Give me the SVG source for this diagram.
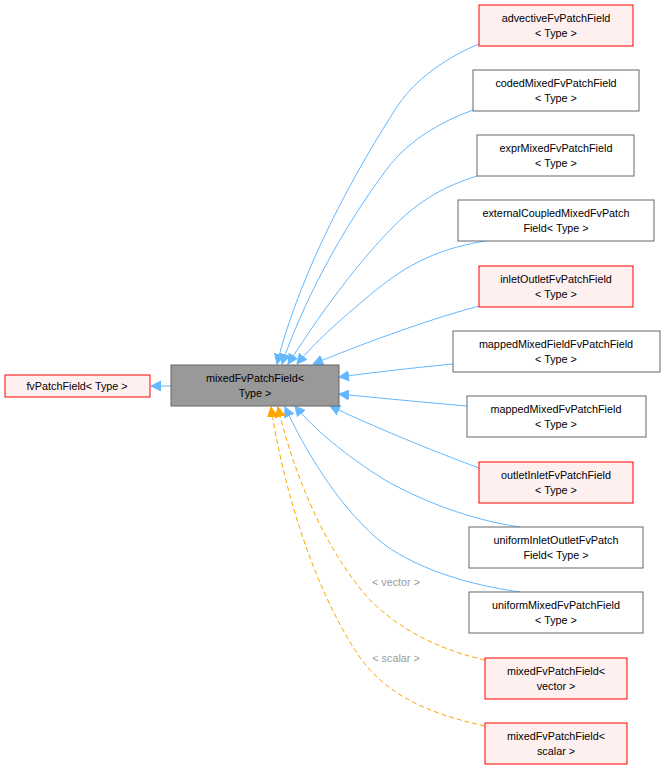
<svg xmlns="http://www.w3.org/2000/svg" width="665" height="770" viewBox="0 0 665 770">
<style>
.n rect{stroke-width:1}
.r{fill:#fff0f0;stroke:#ff0000}
.g{fill:#ffffff;stroke:#666666}
text{font-family:"Liberation Sans",Arial,sans-serif;font-size:10.8px;fill:#000;text-anchor:middle}
.e{fill:none;stroke:#63b8ff;stroke-width:1}
.o{fill:none;stroke:#ffa500;stroke-width:1;stroke-dasharray:5,3}
.l{fill:#9a9a9a}
</style>
<defs>
<marker id="ab" markerWidth="12" markerHeight="12" refX="10" refY="5" orient="auto" markerUnits="userSpaceOnUse"><path d="M0,0 L10,5 L0,10 z" fill="#63b8ff" stroke="#63b8ff"/></marker>
<marker id="ao" markerWidth="12" markerHeight="12" refX="10" refY="5" orient="auto" markerUnits="userSpaceOnUse"><path d="M0,0 L10,5 L0,10 z" fill="#ffa500" stroke="#ffa500"/></marker>
</defs>
<g id="edges">
<path class="e" marker-end="url(#ab)" d="M171,386 L151,386"/>
<path class="e" marker-end="url(#ab)" d="M479,44 C440,60 410,85 395,110 C340,195 295,290 277,364"/>
<path class="e" marker-end="url(#ab)" d="M473,110 C440,122 410,140 390,165 C340,230 300,310 282,364"/>
<path class="e" marker-end="url(#ab)" d="M477,176 C445,186 420,200 395,225 C350,270 310,330 288,364"/>
<path class="e" marker-end="url(#ab)" d="M485,241 C430,250 400,270 370,295 C340,320 315,342 297,364"/>
<path class="e" marker-end="url(#ab)" d="M479,306 C420,322 360,345 313,364"/>
<path class="e" marker-end="url(#ab)" d="M453,364 C410,368 370,373 339,377"/>
<path class="e" marker-end="url(#ab)" d="M467,406 C420,402 380,398 339,394"/>
<path class="e" marker-end="url(#ab)" d="M479,468 C430,450 370,425 330,406"/>
<path class="e" marker-end="url(#ab)" d="M520,527 C470,520 420,500 385,480 C345,455 315,430 295,406"/>
<path class="e" marker-end="url(#ab)" d="M520,592 C470,585 420,570 385,545 C340,510 305,450 285,407"/>
<path class="o" marker-end="url(#ao)" d="M485,660 C440,650 400,630 370,600 C320,545 290,460 278,407"/>
<path class="o" marker-end="url(#ao)" d="M485,726 C420,712 380,690 355,650 C310,580 282,480 271,407"/>
<text class="l" x="396" y="586">&lt; vector &gt;</text>
<text class="l" x="396" y="662">&lt; scalar &gt;</text>
</g>
<g id="fvPatchField" class="n"><rect class="r" x="5" y="375" width="145" height="22"/><text x="77" y="390">fvPatchField&lt; Type &gt;</text></g>
<g id="mixedType" class="n"><rect x="171" y="365" width="168" height="41" fill="#999999" stroke="#666666"/><text x="255" y="382">mixedFvPatchField&lt;</text><text x="255" y="397">Type &gt;</text></g>
<g id="n1" class="n"><rect class="r" x="479" y="5" width="154" height="41"/><text x="556" y="22">advectiveFvPatchField</text><text x="556" y="37">&lt; Type &gt;</text></g>
<g id="n2" class="n"><rect class="g" x="473" y="70" width="166" height="41"/><text x="556" y="87">codedMixedFvPatchField</text><text x="556" y="102">&lt; Type &gt;</text></g>
<g id="n3" class="n"><rect class="g" x="477" y="135" width="157" height="41"/><text x="556" y="152">exprMixedFvPatchField</text><text x="556" y="167">&lt; Type &gt;</text></g>
<g id="n4" class="n"><rect class="g" x="458" y="200" width="196" height="41"/><text x="556" y="217">externalCoupledMixedFvPatch</text><text x="556" y="232">Field&lt; Type &gt;</text></g>
<g id="n5" class="n"><rect class="r" x="479" y="266" width="154" height="41"/><text x="556" y="283">inletOutletFvPatchField</text><text x="556" y="298">&lt; Type &gt;</text></g>
<g id="n6" class="n"><rect class="g" x="453" y="331" width="207" height="41"/><text x="556" y="348">mappedMixedFieldFvPatchField</text><text x="556" y="363">&lt; Type &gt;</text></g>
<g id="n7" class="n"><rect class="g" x="467" y="396" width="179" height="41"/><text x="556" y="413">mappedMixedFvPatchField</text><text x="556" y="428">&lt; Type &gt;</text></g>
<g id="n8" class="n"><rect class="r" x="479" y="462" width="154" height="41"/><text x="556" y="479">outletInletFvPatchField</text><text x="556" y="494">&lt; Type &gt;</text></g>
<g id="n9" class="n"><rect class="g" x="469" y="527" width="174" height="41"/><text x="556" y="544">uniformInletOutletFvPatch</text><text x="556" y="559">Field&lt; Type &gt;</text></g>
<g id="n10" class="n"><rect class="g" x="469" y="592" width="174" height="41"/><text x="556" y="609">uniformMixedFvPatchField</text><text x="556" y="624">&lt; Type &gt;</text></g>
<g id="n11" class="n"><rect class="r" x="485" y="658" width="142" height="41"/><text x="556" y="675">mixedFvPatchField&lt;</text><text x="556" y="690">vector &gt;</text></g>
<g id="n12" class="n"><rect class="r" x="485" y="723" width="142" height="41"/><text x="556" y="740">mixedFvPatchField&lt;</text><text x="556" y="755">scalar &gt;</text></g>
</svg>
